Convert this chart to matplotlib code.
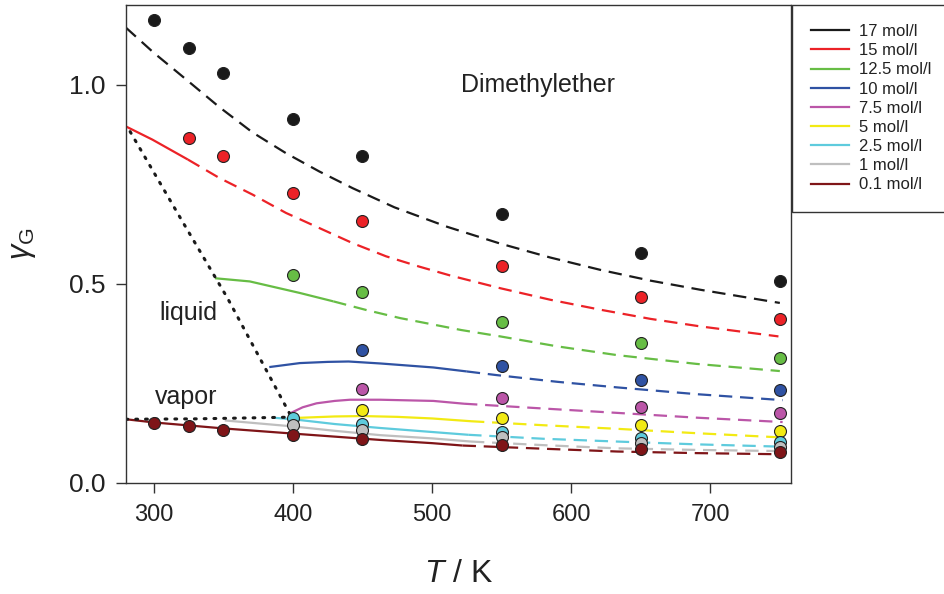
import matplotlib
matplotlib.use("Agg")
import matplotlib.pyplot as plt
from matplotlib.lines import Line2D

plt.rcParams['font.family'] = ['Liberation Sans', 'DejaVu Sans']
plt.rcParams['mathtext.fontset'] = 'custom'
plt.rcParams['mathtext.rm'] = 'Liberation Sans'
plt.rcParams['mathtext.it'] = 'Liberation Sans:italic'

# ---- data ----
labels = ['17 mol/l', '15 mol/l', '12.5 mol/l', '10 mol/l', '7.5 mol/l',
          '5 mol/l', '2.5 mol/l', '1 mol/l', '0.1 mol/l']
colors = ['#1a1a1a', '#ec2227', '#67bd45', '#2f52a3', '#bb56a8',
          '#f2ea13', '#5ecbdd', '#bfbfbf', '#7f1518']

# simulation points (symbols)
pt_T = [
    [300, 325, 350, 400, 450, 550, 650, 750],
    [325, 350, 400, 450, 550, 650, 750],
    [400, 450, 550, 650, 750],
    [450, 550, 650, 750],
    [450, 550, 650, 750],
    [450, 550, 650, 750],
    [400, 450, 550, 650, 750],
    [400, 450, 550, 650, 750],
    [300, 325, 350, 400, 450, 550, 650, 750],
]
pt_g = [
    [1.163, 1.093, 1.030, 0.915, 0.820, 0.675, 0.578, 0.508],
    [0.867, 0.822, 0.729, 0.658, 0.545, 0.468, 0.412],
    [0.523, 0.480, 0.405, 0.351, 0.314],
    [0.334, 0.294, 0.259, 0.234],
    [0.236, 0.214, 0.191, 0.176],
    [0.183, 0.163, 0.146, 0.131],
    [0.163, 0.148, 0.128, 0.113, 0.103],
    [0.146, 0.133, 0.116, 0.100, 0.090],
    [0.151, 0.143, 0.133, 0.121, 0.111, 0.095, 0.085, 0.078],
]

# equation-of-state curves
ln_T = [
    [280, 300, 325, 347, 371, 395, 419, 443, 473, 511, 549, 585, 621, 657, 693, 750],
    [280, 299, 324.5, 347, 371, 395, 419, 443, 467, 491, 513, 549, 585, 621, 657, 693, 749],
    [344, 369, 405, 429, 453, 477, 521, 549, 590, 633, 690, 750],
    [383, 405, 425, 440, 463, 501, 525, 546, 590, 633, 690, 752],
    [398, 407, 417, 430, 441, 463, 501, 523, 575, 633, 690, 752],
    [400, 430, 450, 475, 500, 528, 580, 633, 690, 753],
    [385, 400, 430, 463, 500, 526, 580, 633, 690, 753],
    [351, 400, 430, 463, 500, 528, 580, 633, 690, 753],
    [280, 300, 350, 400, 463, 500, 522, 580, 633, 690, 753],
]
ln_g = [
    [1.143, 1.080, 1.008, 0.944, 0.880, 0.828, 0.782, 0.740, 0.692, 0.643, 0.601, 0.566, 0.535, 0.508, 0.485, 0.452],
    [0.895, 0.862, 0.812, 0.766, 0.724, 0.678, 0.640, 0.602, 0.569, 0.543, 0.521, 0.489, 0.460, 0.435, 0.412, 0.393, 0.368],
    [0.514, 0.506, 0.477, 0.456, 0.434, 0.414, 0.384, 0.368, 0.343, 0.321, 0.299, 0.281],
    [0.291, 0.301, 0.304, 0.305, 0.300, 0.290, 0.280, 0.271, 0.254, 0.240, 0.223, 0.208],
    [0.175, 0.190, 0.200, 0.206, 0.209, 0.209, 0.206, 0.199, 0.188, 0.176, 0.164, 0.153],
    [0.163, 0.167, 0.168, 0.166, 0.162, 0.155, 0.145, 0.136, 0.125, 0.114],
    [0.164, 0.160, 0.148, 0.138, 0.128, 0.121, 0.111, 0.104, 0.097, 0.091],
    [0.157, 0.142, 0.131, 0.120, 0.112, 0.104, 0.095, 0.087, 0.083, 0.080],
    [0.160, 0.152, 0.137, 0.124, 0.108, 0.100, 0.094, 0.086, 0.079, 0.075, 0.072],
]
# temperature where solid (stable) turns into dashed
split_T = [280, 324.5, 429, 525, 523, 528, 526, 528, 522]

# phase boundary (dotted)
liq_T = [283, 320, 353, 398]
liq_g = [0.882, 0.660, 0.464, 0.172]
vap_T = [280, 330, 395]
vap_g = [0.160, 0.161, 0.165]

# ---- figure ----
fig = plt.figure(figsize=(9.45, 5.94), dpi=100)
ax = fig.add_axes([0.1333, 0.1869, 0.7037, 0.8047])

for i in range(len(labels)):
    T = ln_T[i]; g = ln_g[i]; s = split_T[i]
    solid_T = [t for t in T if t <= s]
    solid_g = [gg for t, gg in zip(T, g) if t <= s]
    dash_T = [t for t in T if t >= s]
    dash_g = [gg for t, gg in zip(T, g) if t >= s]
    if len(solid_T) > 1:
        ax.plot(solid_T, solid_g, color=colors[i], lw=1.6, solid_capstyle='butt',
                solid_joinstyle='round', zorder=2)
    if len(dash_T) > 1:
        ax.plot(dash_T, dash_g, color=colors[i], lw=1.6, dashes=(6, 3.5), zorder=2)

ax.plot(liq_T, liq_g, color='#1a1a1a', lw=2.2, linestyle=(0, (0.6, 2.6)),
        dash_capstyle='round', zorder=2)
ax.plot(vap_T, vap_g, color='#1a1a1a', lw=2.2, linestyle=(0, (0.6, 2.6)),
        dash_capstyle='round', zorder=2)

for i in range(len(labels)):
    ax.plot(pt_T[i], pt_g[i], 'o', color=colors[i], markersize=8.6,
            markeredgecolor='#222222', markeredgewidth=0.8, zorder=3)

ax.set_xlim(280, 758)
ax.set_ylim(0, 1.2)
ax.set_xticks([300, 400, 500, 600, 700])
ax.set_yticks([0.0, 0.5, 1.0])
ax.set_yticklabels(['0.0', '0.5', '1.0'])
ax.tick_params(axis='both', direction='out', length=7, width=1,
               color='#333333', labelcolor='#222222', pad=8)
ax.tick_params(axis='x', labelsize=17)
ax.tick_params(axis='y', labelsize=19)
for sp in ax.spines.values():
    sp.set_color('#333333')
    sp.set_linewidth(1.0)

ax.set_xlabel(r'$\mathit{T}$ / K', fontsize=23, color='#222222', labelpad=24)
ax.set_ylabel(r'$\gamma_\mathrm{G}$', fontsize=22, color='#222222', labelpad=22)

ax.text(576, 1.0, 'Dimethylether', fontsize=18, color='#222222', ha='center', va='center')
ax.text(304, 0.427, 'liquid', fontsize=18, color='#222222', ha='left', va='center')
ax.text(301, 0.216, 'vapor', fontsize=18, color='#222222', ha='left', va='center')

handles = [Line2D([0], [0], color=c, lw=1.6) for c in colors]
leg = ax.legend(handles, labels, loc='upper left', bbox_to_anchor=(1.0015, 1.0),
                borderaxespad=0, fancybox=False, framealpha=1, edgecolor='#333333',
                fontsize=12, handlelength=2.3, handletextpad=0.55, labelspacing=0.25,
                borderpad=1.15, frameon=True)
leg.get_frame().set_linewidth(1.0)
for t in leg.get_texts():
    t.set_color('#222222')

fig.savefig('out.png', dpi=100)
